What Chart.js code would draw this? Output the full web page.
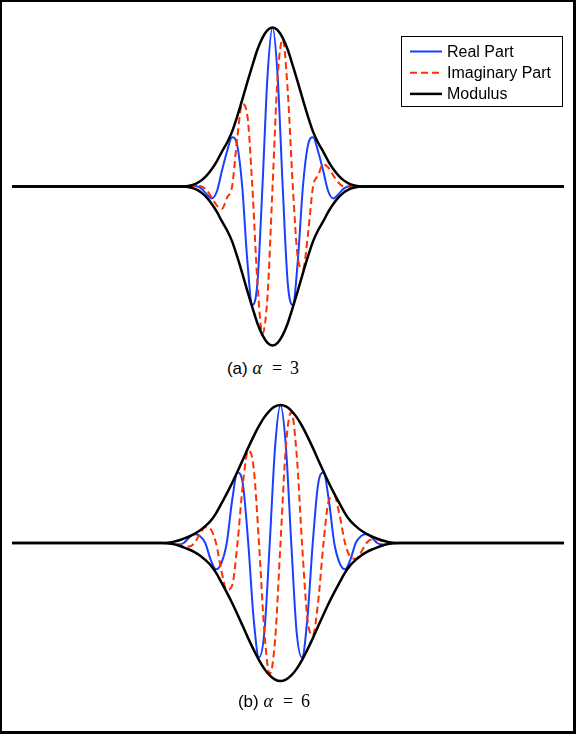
<!DOCTYPE html>
<html>
<head>
<meta charset="utf-8">
<script src="https://cdn.jsdelivr.net/npm/chart.js@4.4.1/dist/chart.umd.min.js"></script>
<style>
  html, body { margin: 0; padding: 0; background: #fff; }
  #page {
    position: relative;
    width: 576px; height: 734px;
    box-sizing: border-box;
    border-style: solid; border-color: #000;
    border-width: 2px 3px 3px 2px;
    overflow: hidden;
  }
  canvas { position: absolute; }
  .cap {
    position: absolute;
    width: 200px;
    text-align: center;
    font: 17px "Liberation Sans", Arial, sans-serif;
    color: #000;
    white-space: nowrap;
  }
  .cap i, .cap span { font-family: "Liberation Serif", "Times New Roman", serif; font-size: 18px; }
  .cap .eq { margin: 0 8px 0 10px; }
</style>
</head>
<body>
<div id="page">
  <canvas id="chart-a" width="552" height="339" style="left:10px; top:15px;"></canvas>
  <canvas id="chart-b" width="552" height="302" style="left:10px; top:390px;"></canvas>
  <div class="cap" style="left:161px; top:356px;">(a) <i>α</i><span class="eq">=</span><span>3</span></div>
  <div class="cap" style="left:172px; top:689px;">(b) <i>α</i><span class="eq">=</span><span>6</span></div>
</div>
<script>
  // panel (a), alpha = 3
  const tA = [-51.5,
    -18, -17, -16, -15, -14, -13, -12, -11, -10, -9, -8, -7, -6, -5, -4, -3, -2, -1,
    0, 1, 2, 3, 4, 5, 6, 7, 8, 9, 10, 11, 12, 13, 14, 15, 16, 17, 18,
    57.6];
  const realA = [0,
    0, 0.001, 0.004, 0.002, -0.015, -0.05, -0.075, -0.03, 0.10, 0.22, 0.31, 0.26, 0, -0.463, -0.745, -0.608, 0, 0.695,
    1, 0.695, 0, -0.608, -0.745, -0.463, 0, 0.26, 0.31, 0.22, 0.10, -0.03, -0.075, -0.05, -0.015, 0.002, 0.004, 0.001, 0,
    0];
  const imagA = [0,
    0, 0, 0.003, 0.004, 0, -0.025, -0.07, -0.12, -0.14, -0.07, 0, 0.30, 0.52, 0.45, 0, -0.60, -0.925, -0.69,
    0, 0.69, 0.925, 0.60, 0, -0.45, -0.52, -0.30, 0, 0.07, 0.14, 0.12, 0.07, 0.025, 0, -0.004, -0.003, 0, 0,
    0];
  const modA = [0,
    0, 0.002, 0.008, 0.02, 0.04, 0.07, 0.11, 0.16, 0.22, 0.275, 0.345, 0.44, 0.545, 0.655, 0.76, 0.86, 0.935, 0.983,
    1, 0.983, 0.935, 0.86, 0.76, 0.655, 0.545, 0.44, 0.345, 0.275, 0.22, 0.16, 0.11, 0.07, 0.04, 0.02, 0.008, 0.002, 0,
    0];

  // panel (b), alpha = 6
  const tB = [-49.95,
    -22, -21, -20, -19, -18, -17, -16, -15, -14, -13, -12, -11, -10, -9, -8, -7, -6, -5, -4, -3, -2, -1,
    0, 1, 2, 3, 4, 5, 6, 7, 8, 9, 10, 11, 12, 13, 14, 15, 16, 17, 18, 19, 20, 21, 22,
    52.74];
  const realB = [0,
    0, -0.002, -0.008, -0.01, 0, 0.04, 0.065, 0.05, 0, -0.12, -0.19, -0.145, 0, 0.308, 0.51, 0.427, 0, -0.547, -0.83, -0.645, 0, 0.70,
    1, 0.70, 0, -0.645, -0.83, -0.547, 0, 0.427, 0.51, 0.308, 0, -0.145, -0.19, -0.12, 0, 0.05, 0.065, 0.04, 0, -0.01, -0.008, -0.002, 0,
    0];
  const imagB = [0,
    0, 0, 0, -0.012, -0.025, -0.025, 0, 0.066, 0.115, 0.1, 0, -0.2, -0.34, -0.308, 0, 0.427, 0.67, 0.547, 0, -0.645, -0.95, -0.70,
    0, 0.70, 0.95, 0.645, 0, -0.547, -0.67, -0.427, 0, 0.308, 0.34, 0.2, 0, -0.1, -0.115, -0.066, 0, 0.025, 0.025, 0.012, 0, 0, 0,
    0];
  const modB = [0,
    0, 0.002, 0.008, 0.018, 0.032, 0.047, 0.066, 0.09, 0.122, 0.16, 0.215, 0.285, 0.358, 0.435, 0.518, 0.604, 0.691, 0.773, 0.848, 0.912, 0.96, 0.99,
    1, 0.99, 0.96, 0.912, 0.848, 0.773, 0.691, 0.604, 0.518, 0.435, 0.358, 0.285, 0.215, 0.16, 0.122, 0.09, 0.066, 0.047, 0.032, 0.018, 0.008, 0.002, 0,
    0];

  const blue = 'rgb(25, 64, 255)';
  const red = 'rgb(255, 48, 0)';

  function pts(t, v, sign) {
    return t.map((x, i) => ({ x: x, y: sign * v[i] }));
  }

  // order: higher numbers are drawn first, so the modulus ends up on top
  function datasets(t, re, im, mod) {
    return [
      { label: 'Real Part', data: pts(t, re, 1), borderColor: blue, borderWidth: 2, order: 3 },
      { label: 'Imaginary Part', data: pts(t, im, 1), borderColor: red, borderWidth: 2, borderDash: [7, 4], order: 2 },
      { label: 'Modulus', data: pts(t, mod, 1), borderColor: '#000', borderWidth: 2.5, order: 1 },
      { label: '', data: pts(t, mod, -1), borderColor: '#000', borderWidth: 2.5, order: 0 }
    ];
  }

  // boxed legend in the top right corner of panel (a)
  const legendBox = {
    id: 'legendBox',
    afterDraw(chart) {
      const ctx = chart.ctx;
      const items = chart.data.datasets.filter(d => d.label);
      ctx.save();
      ctx.fillStyle = '#fff';
      ctx.fillRect(389.5, 19.5, 161, 70);
      ctx.strokeStyle = '#000';
      ctx.lineWidth = 1;
      ctx.setLineDash([]);
      ctx.strokeRect(389.5, 19.5, 161, 70);
      ctx.font = '16px "Liberation Sans", Arial, sans-serif';
      ctx.textBaseline = 'middle';
      items.forEach((d, i) => {
        const y = 34.5 + i * 21.2;
        ctx.strokeStyle = d.borderColor;
        ctx.lineWidth = d.borderWidth;
        ctx.setLineDash(d.borderDash || []);
        ctx.beginPath();
        ctx.moveTo(398, y);
        ctx.lineTo(430, y);
        ctx.stroke();
        ctx.fillStyle = '#000';
        ctx.fillText(d.label, 435, y + 1);
      });
      ctx.restore();
    }
  };

  function options(xmin, xmax, ymax) {
    return {
      responsive: false,
      animation: false,
      layout: { padding: 0 },
      elements: {
        point: { radius: 0 },
        line: { cubicInterpolationMode: 'monotone', borderCapStyle: 'butt' }
      },
      plugins: { legend: { display: false }, tooltip: { enabled: false } },
      scales: {
        x: { type: 'linear', min: xmin, max: xmax, display: false },
        y: { min: -ymax, max: ymax, display: false }
      }
    };
  }

  const chartA = new Chart(document.getElementById('chart-a'), {
    type: 'line',
    data: { datasets: datasets(tA, realA, imagA, modA) },
    options: options(-51.5, 57.6, 169.5 / 159),
    plugins: [legendBox]
  });

  const chartB = new Chart(document.getElementById('chart-b'), {
    type: 'line',
    data: { datasets: datasets(tB, realB, imagB, modB) },
    options: options(-49.95, 52.74, 151 / 138)
  });
</script>
</body>
</html>
